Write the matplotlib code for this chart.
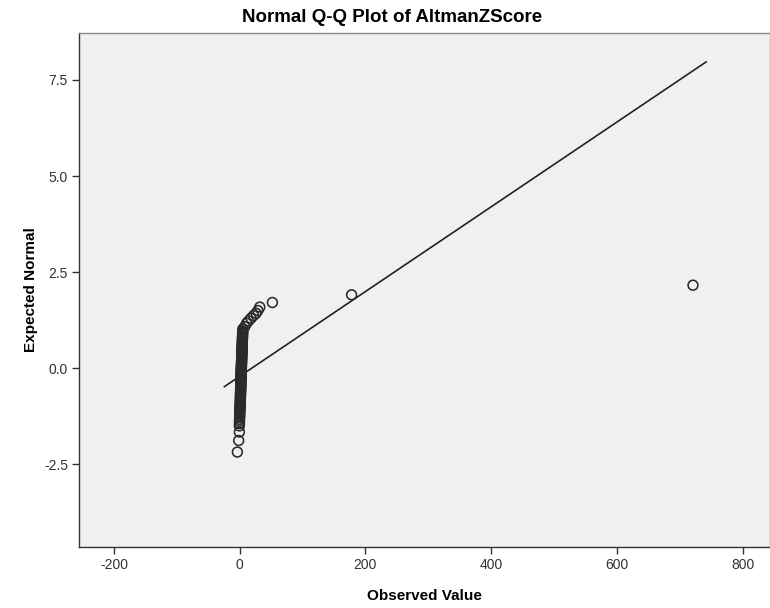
import matplotlib
matplotlib.use("Agg")
import matplotlib.pyplot as plt
from matplotlib import font_manager

title_text = "Normal Q-Q Plot of AltmanZScore"
x_label = "Observed Value"
y_label = "Expected Normal"

observed_low = [-3.7, -1.6, -0.5]
observed_mid = [
    -0.5, -0.4, -0.3, -0.2, -0.1, 0.0, 0.1, 0.2, 0.3, 0.4,
    0.5, 0.6, 0.7, 0.8, 0.9, 1.0, 1.0, 1.1, 1.1, 1.2,
    1.2, 1.3, 1.3, 1.4, 1.4, 1.5, 1.5, 1.6, 1.6, 1.7,
    1.7, 1.8, 1.8, 1.9, 1.9, 2.0, 2.0, 2.1, 2.1, 2.2,
    2.2, 2.3, 2.3, 2.4, 2.4, 2.5, 2.5, 2.6, 2.6, 2.7,
    2.7, 2.8, 2.8, 2.9, 2.9, 3.0, 3.0, 3.1, 3.1, 3.2,
    3.2, 3.3, 3.3, 3.4, 3.4, 3.5, 3.5, 3.6, 3.7, 3.8,
    3.8, 3.9, 4.0, 4.0, 4.1, 4.2, 4.2, 4.3, 4.4, 4.5,
    4.5, 4.6, 4.7, 4.8, 4.9,
]
observed_high = [5.0, 8.0, 11.0, 14.0, 18.0, 22.0, 26.0, 29.0, 32.0, 52.0, 178.0, 721.0]

# Expected normal values (y) for the same points
expected_low = [-2.18, -1.88, -1.66]
expected_mid = [
    -1.50, -1.44, -1.38, -1.33, -1.28, -1.23, -1.19, -1.15, -1.11, -1.07,
    -1.03, -0.99, -0.96, -0.92, -0.89, -0.86, -0.83, -0.80, -0.77, -0.74,
    -0.71, -0.68, -0.65, -0.62, -0.60, -0.57, -0.54, -0.51, -0.49, -0.46,
    -0.44, -0.41, -0.38, -0.36, -0.33, -0.30, -0.28, -0.25, -0.23, -0.21,
    -0.19, -0.16, -0.14, -0.11, -0.09, -0.06, -0.04, -0.02, 0.00, 0.02,
    0.05, 0.07, 0.09, 0.12, 0.14, 0.17, 0.19, 0.22, 0.24, 0.27,
    0.29, 0.32, 0.34, 0.37, 0.39, 0.42, 0.44, 0.47, 0.49, 0.52,
    0.55, 0.58, 0.60, 0.63, 0.66, 0.69, 0.72, 0.75, 0.78, 0.81,
    0.84, 0.88, 0.91, 0.94, 0.97,
]
expected_high = [1.02, 1.08, 1.17, 1.23, 1.30, 1.37, 1.43, 1.50, 1.59, 1.71, 1.91, 2.16]

observed = observed_low + observed_mid + observed_high
expected = expected_low + expected_mid + expected_high

# Reference line endpoints
line_x = [-25.4, 743.0]
line_y = [-0.49, 7.98]

x_ticks = [-200, 0, 200, 400, 600, 800]
x_tick_labels = ["-200", "0", "200", "400", "600", "800"]
y_ticks = [-2.5, 0.0, 2.5, 5.0, 7.5]
y_tick_labels = ["-2.5", "0.0", "2.5", "5.0", "7.5"]

names = {f.name for f in font_manager.fontManager.ttflist}
base_font = "Liberation Sans" if "Liberation Sans" in names else "DejaVu Sans"
plt.rcParams["font.family"] = [base_font, "DejaVu Sans"]

W, H = 770, 608
fig = plt.figure(figsize=(W / 100, H / 100), dpi=100)
fig.patch.set_facecolor("white")
ax = fig.add_axes([79 / W, 1 - 547 / H, (769.5 - 79) / W, (547 - 33) / H])
ax.set_facecolor("#F0F0F0")

ax.plot(line_x, line_y, color="#222222", lw=1.2, solid_capstyle="butt", zorder=2)
ax.scatter(observed, expected, s=50, facecolors="none", edgecolors="#2a2a2a",
           linewidths=1.15, zorder=3)

ax.set_xlim(-255.6, 842.7)
ax.set_ylim(-4.65, 8.72)
ax.set_xticks(x_ticks)
ax.set_xticklabels(x_tick_labels)
ax.set_yticks(y_ticks)
ax.set_yticklabels(y_tick_labels)
ax.tick_params(axis="both", direction="out", length=5, width=1, color="#333333",
               labelsize=10, labelcolor="#333333", pad=3)

for side in ["left", "bottom"]:
    ax.spines[side].set_color("#333333")
    ax.spines[side].set_linewidth(1.0)
for side in ["top", "right"]:
    ax.spines[side].set_color("#888888")
    ax.spines[side].set_linewidth(1.0)

ax.set_xlabel(x_label, fontsize=11, fontweight="bold", color="black", labelpad=12)
ax.set_ylabel(y_label, fontsize=11, fontweight="bold", color="black", labelpad=4)

fig.text(392 / W, 1 - 17.5 / H, title_text, ha="center", va="center",
         fontsize=13.5, fontweight="bold")

fig.savefig("out.png", dpi=100)
